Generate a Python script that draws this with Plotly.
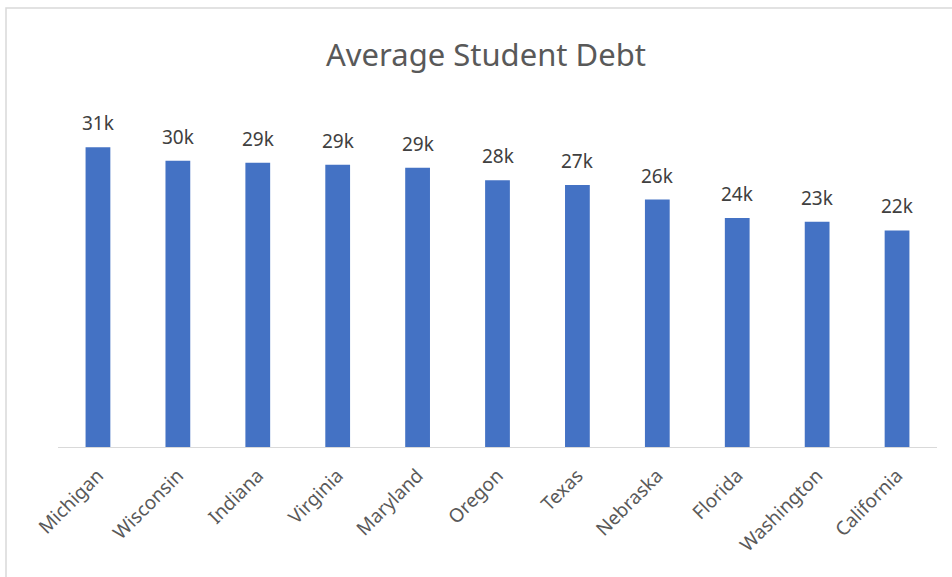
import plotly.graph_objects as go

states = ["Michigan", "Wisconsin", "Indiana", "Virginia", "Maryland", "Oregon",
          "Texas", "Nebraska", "Florida", "Washington", "California"]
debt = [31000, 29600, 29400, 29200, 28900, 27600, 27100, 25600, 23700, 23300, 22400]
labels = [f"{round(v/1000)}k" for v in debt]

fig = go.Figure(go.Bar(
    x=states, y=debt,
    marker=dict(color="#4472C4", line=dict(width=0)),
    hoverinfo="x+y",
))

for s, v, t in zip(states, debt, labels):
    fig.add_annotation(x=s, y=v, text=t, showarrow=False, yanchor="bottom", yshift=9,
                       font=dict(size=19, color="#404040", family="Noto Sans"))

fig.update_layout(
    width=952, height=577,
    margin=dict(l=58, r=15, t=99, b=130),
    paper_bgcolor="white", plot_bgcolor="white",
    bargap=0.69,
    showlegend=False,
    title=dict(text="Average Student Debt", x=486/952, xanchor="center",
               y=1 - 55/577, yanchor="middle",
               font=dict(size=31, color="#595959", family="Noto Sans")),
    xaxis=dict(tickangle=-45, showgrid=False, showline=True, linecolor="#D9D9D9",
               linewidth=1, ticks="", ticklabelstandoff=9,
               tickfont=dict(size=19, color="#595959", family="Noto Sans")),
    yaxis=dict(range=[0, 36000], visible=False, showgrid=False),
    shapes=[dict(type="rect", xref="paper", yref="paper",
                 x0=-52/879, x1=1.1, y0=-0.5, y1=1 + 91/348,
                 line=dict(color="#D9D9D9", width=1.5), layer="below")],
)

fig.write_html("out.html", config={"displayModeBar": False},
               post_script="document.body.style.margin='0px';document.body.style.overflow='hidden';")
